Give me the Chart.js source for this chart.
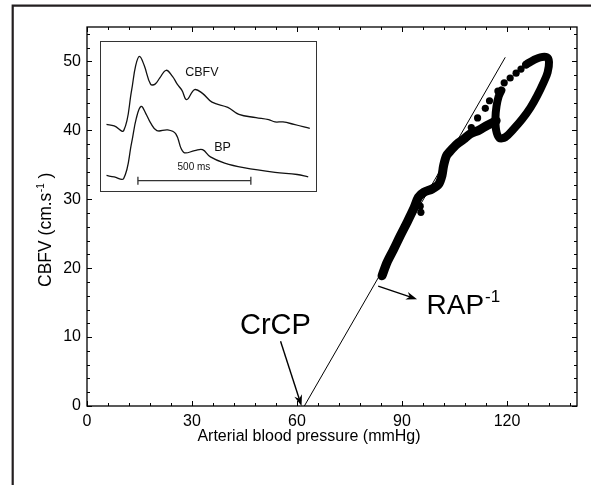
<!DOCTYPE html>
<html><head><meta charset="utf-8">
<script src="https://cdn.jsdelivr.net/npm/chart.js@4.4.0/dist/chart.umd.min.js"></script>
<style>
html,body{margin:0;padding:0;background:#fff;}
#wrap{position:relative;width:596px;height:485px;overflow:hidden;}
#main{position:absolute;left:0;top:0;}
#insetBox{position:absolute;left:100px;top:41px;width:215px;height:149px;border:1px solid #333;background:#fff;}
#inset{display:block;}
</style></head><body>
<div id="wrap">
<canvas id="main" width="596" height="485"></canvas>
<div id="insetBox"><canvas id="inset" width="215" height="149"></canvas></div>
</div>
<script>
// ---------- main chart data (ABP mmHg vs CBFV cm/s) ----------
const xTickVals = [0, 30, 60, 90, 120];
const yTickVals = [0, 10, 20, 30, 40, 50];
const xTitle = 'Arterial blood pressure (mmHg)';
const yTitleMain = 'CBFV (cm.s';
const yTitleSup = '-1';
const yTitleEnd = ' )';

// regression line (CrCP at x-intercept)
const fitX = [62.1, 119.5];
const fitY = [0, 50.6];

// dense band (diastolic part)
const bandX = [84.3, 85.7, 87.6, 89.5, 91.4, 93.3, 94.7, 96.2, 98.6, 100.5, 101.4, 101.9, 102.7, 103.8, 105.7, 107.6, 109.5, 111.9, 114.3, 116.9];
const bandY = [18.9, 20.8, 22.7, 24.7, 26.6, 28.6, 30.3, 31.0, 31.5, 32.2, 33.4, 34.9, 36.3, 37.0, 38.0, 38.7, 39.5, 40.0, 40.7, 41.4];

// loop (systolic part)
const loopX = [125.6, 127.6, 129.5, 131.4, 132.0, 131.6, 130.5, 128.6, 126.7, 124.3, 121.9, 119.5, 117.8, 116.9, 116.7, 117.0, 117.6, 118.4];
const loopY = [49.6, 50.2, 50.6, 50.6, 49.9, 48.4, 47.0, 45.0, 43.3, 41.6, 40.2, 39.0, 38.9, 40.0, 41.8, 43.5, 44.9, 45.8];

// sparse samples (fast upstroke) and a few stray samples beside the band
const dotX = [109.8, 111.6, 113.8, 115.0, 117.4, 119.2, 120.9, 122.6, 124.0, 125.3, 95.2, 95.4];
const dotY = [40.4, 41.8, 43.2, 44.3, 45.7, 46.9, 47.6, 48.3, 48.9, 49.5, 29.0, 28.1];

// annotations
const crcpLabel = 'CrCP';
const rapLabel = 'RAP';
const rapSup = '-1';

// ---------- inset data (time in ms, arbitrary units) ----------
const cbfvT = [0, 35, 77, 112, 130, 147, 168, 196, 216, 237, 265, 293, 314, 335, 356, 391, 426, 468, 538, 587, 663, 719, 747, 782, 831, 901];
const cbfvV = [44.3, 43.2, 39.8, 68.9, 86.8, 93.5, 86.8, 73.4, 73.4, 77.9, 83.4, 79.0, 73.4, 68.9, 62.2, 69.4, 66.7, 60.4, 56.6, 51.5, 49.2, 47.7, 46.1, 46.1, 44.3, 41.4];
const bpT = [0, 35, 77, 112, 133, 154, 175, 196, 224, 272, 307, 342, 391, 426, 461, 524, 608, 747, 845, 894];
const bpV = [7.4, 6.3, 5.2, 30.9, 48.8, 57.3, 52.1, 45.4, 39.8, 40.3, 37.6, 24.2, 25.3, 26.0, 20.8, 16.3, 13.0, 9.6, 8.1, 6.3];
const barT = [140, 640];
const barV = [3.6, 3.6];
const insetLabels = ['CBFV', 'BP', '500 ms'];

const FONT = "'Liberation Sans', Arial, Helvetica, sans-serif";
Chart.defaults.font.family = FONT;
Chart.defaults.color = '#000';

const pts = (xs, ys) => xs.map((v, i) => ({x: v, y: ys[i]}));

function arrow(ctx, x1, y1, x2, y2, len, w) {
  const ang = Math.atan2(y2 - y1, x2 - x1);
  ctx.beginPath();
  ctx.moveTo(x1, y1);
  ctx.lineTo(x2 - Math.cos(ang) * len * 0.6, y2 - Math.sin(ang) * len * 0.6);
  ctx.stroke();
  ctx.beginPath();
  ctx.moveTo(x2, y2);
  ctx.lineTo(x2 - len * Math.cos(ang) + w * Math.sin(ang), y2 - len * Math.sin(ang) - w * Math.cos(ang));
  ctx.lineTo(x2 - len * 0.7 * Math.cos(ang), y2 - len * 0.7 * Math.sin(ang));
  ctx.lineTo(x2 - len * Math.cos(ang) - w * Math.sin(ang), y2 - len * Math.sin(ang) + w * Math.cos(ang));
  ctx.closePath();
  ctx.fill();
}

const mainDecor = {
  id: 'mainDecor',
  afterDatasetsDraw(chart) {
    const {ctx, chartArea: a, scales: {x, y}} = chart;
    ctx.save();
    ctx.strokeStyle = '#000';
    ctx.fillStyle = '#000';
    // axis box
    ctx.lineWidth = 1.3;
    ctx.strokeRect(a.left, a.top, a.right - a.left, a.bottom - a.top);
    // inward ticks on all four sides
    ctx.lineWidth = 1;
    ctx.beginPath();
    for (let v = 0; v <= x.max + 1e-9; v += 6) {
      const p = Math.round(x.getPixelForValue(v)) + 0.5;
      const L = xTickVals.includes(v) ? 5 : 3;
      ctx.moveTo(p, a.bottom); ctx.lineTo(p, a.bottom - L);
      ctx.moveTo(p, a.top); ctx.lineTo(p, a.top + L);
    }
    for (let v = 0; v <= y.max + 1e-9; v += 2) {
      const p = Math.round(y.getPixelForValue(v)) + 0.5;
      const L = yTickVals.includes(v) ? 5 : 3;
      ctx.moveTo(a.left, p); ctx.lineTo(a.left + L, p);
      ctx.moveTo(a.right, p); ctx.lineTo(a.right - L, p);
    }
    ctx.stroke();

    // CrCP label + arrow
    ctx.font = '29px ' + FONT;
    ctx.textBaseline = 'alphabetic';
    ctx.textAlign = 'left';
    ctx.fillText(crcpLabel, x.getPixelForValue(43.7), y.getPixelForValue(10.4));
    ctx.lineWidth = 1.4;
    arrow(ctx, x.getPixelForValue(55.3), y.getPixelForValue(9.4), x.getPixelForValue(61.3), y.getPixelForValue(0), 11, 4);

    // RAP^-1 label + arrow
    const rx = x.getPixelForValue(97.0), ry = y.getPixelForValue(13.3);
    ctx.font = '28px ' + FONT;
    ctx.fillText(rapLabel, rx, ry);
    const rw = ctx.measureText(rapLabel).width;
    ctx.font = '17px ' + FONT;
    ctx.fillText(rapSup, rx + rw + 1, ry - 12);
    arrow(ctx, x.getPixelForValue(83.2), y.getPixelForValue(17.4), x.getPixelForValue(94.3), y.getPixelForValue(15.5), 11, 4);

    // x-axis title
    ctx.font = '16px ' + FONT;
    ctx.textAlign = 'center';
    ctx.textBaseline = 'middle';
    ctx.fillText(xTitle, 309, 437);
    ctx.textAlign = 'left';
    ctx.textBaseline = 'alphabetic';

    // y-axis title with superscript
    ctx.save();
    ctx.translate(51, 230);
    ctx.rotate(-Math.PI / 2);
    ctx.font = '17.5px ' + FONT;
    const w1 = ctx.measureText(yTitleMain).width;
    const w3 = ctx.measureText(yTitleEnd).width;
    ctx.font = '10px ' + FONT;
    const w2 = ctx.measureText(yTitleSup).width;
    let sx = -(w1 + w2 + w3) / 2;
    ctx.font = '17.5px ' + FONT;
    ctx.fillText(yTitleMain, sx, 0);
    ctx.font = '10px ' + FONT;
    ctx.fillText(yTitleSup, sx + w1 + 0.5, -7);
    ctx.font = '17.5px ' + FONT;
    ctx.fillText(yTitleEnd, sx + w1 + w2 + 0.5, 0);
    ctx.restore();

    // outer figure frame (left and top)
    ctx.lineWidth = 2.2;
    ctx.strokeStyle = '#231f20';
    ctx.beginPath();
    ctx.moveTo(12.7, 490); ctx.lineTo(12.7, 5.7); ctx.lineTo(591, 5.7);
    ctx.stroke();
    ctx.restore();
  }
};

new Chart(document.getElementById('main'), {
  type: 'scatter',
  data: {
    datasets: [
      {data: pts(fitX, fitY), showLine: true, borderColor: '#000', borderWidth: 1, pointRadius: 0},
      {data: pts(bandX, bandY), showLine: true, borderColor: '#000', borderWidth: 9, pointRadius: 0, tension: 0.3, borderCapStyle: 'round', borderJoinStyle: 'round'},
      {data: pts(loopX, loopY), showLine: true, borderColor: '#000', borderWidth: 8, pointRadius: 0, tension: 0.35, borderCapStyle: 'round', borderJoinStyle: 'round'},
      {data: pts(dotX, dotY), showLine: false, backgroundColor: '#000', borderColor: '#000', pointRadius: 3.6, borderWidth: 0}
    ]
  },
  options: {
    responsive: false,
    animation: false,
    events: [],
    layout: {padding: {left: 0, top: 27, right: 19, bottom: 0}},
    plugins: {legend: {display: false}, tooltip: {enabled: false}},
    scales: {
      x: {
        type: 'linear', min: 0, max: 140,
        afterBuildTicks: s => { s.ticks = xTickVals.map(v => ({value: v})); },
        afterFit: s => { s.height = 79; },
        grid: {display: false, drawTicks: false},
        border: {display: false},
        ticks: {color: '#000', font: {size: 16}, padding: 6, maxRotation: 0, autoSkip: false},
        title: {display: false}
      },
      y: {
        type: 'linear', min: 0, max: 55,
        afterBuildTicks: s => { s.ticks = yTickVals.map(v => ({value: v})); },
        afterFit: s => { s.width = 87; },
        grid: {display: false, drawTicks: false},
        border: {display: false},
        ticks: {color: '#000', font: {size: 16}, padding: 6, autoSkip: false}
      }
    }
  },
  plugins: [mainDecor]
});

const insetDecor = {
  id: 'insetDecor',
  afterDatasetsDraw(chart) {
    const {ctx, scales: {x, y}} = chart;
    ctx.save();
    ctx.fillStyle = '#111';
    ctx.textAlign = 'center';
    ctx.textBaseline = 'middle';
    ctx.font = '12.5px ' + FONT;
    ctx.fillText(insetLabels[0], x.getPixelForValue(423), y.getPixelForValue(81.9));
    ctx.fillText(insetLabels[1], x.getPixelForValue(515), y.getPixelForValue(27.5));
    ctx.font = '10px ' + FONT;
    ctx.fillText(insetLabels[2], x.getPixelForValue(388), y.getPixelForValue(13.4));
    ctx.restore();
  }
};

new Chart(document.getElementById('inset'), {
  type: 'scatter',
  data: {
    datasets: [
      {data: pts(cbfvT, cbfvV), showLine: true, borderColor: '#111', borderWidth: 1.3, pointRadius: 0, tension: 0.4},
      {data: pts(bpT, bpV), showLine: true, borderColor: '#111', borderWidth: 1.3, pointRadius: 0, tension: 0.4},
      {data: pts(barT, barV), showLine: true, borderColor: '#333', borderWidth: 1.3, pointStyle: 'line', rotation: 90, pointRadius: 4, pointBorderWidth: 1.3, pointBorderColor: '#333'}
    ]
  },
  options: {
    responsive: false,
    animation: false,
    events: [],
    layout: {padding: 0},
    plugins: {legend: {display: false}, tooltip: {enabled: false}},
    scales: {
      x: {type: 'linear', display: false, min: 0, max: 905},
      y: {type: 'linear', display: false, min: 0, max: 100}
    }
  },
  plugins: [insetDecor]
});
</script>
</body></html>
